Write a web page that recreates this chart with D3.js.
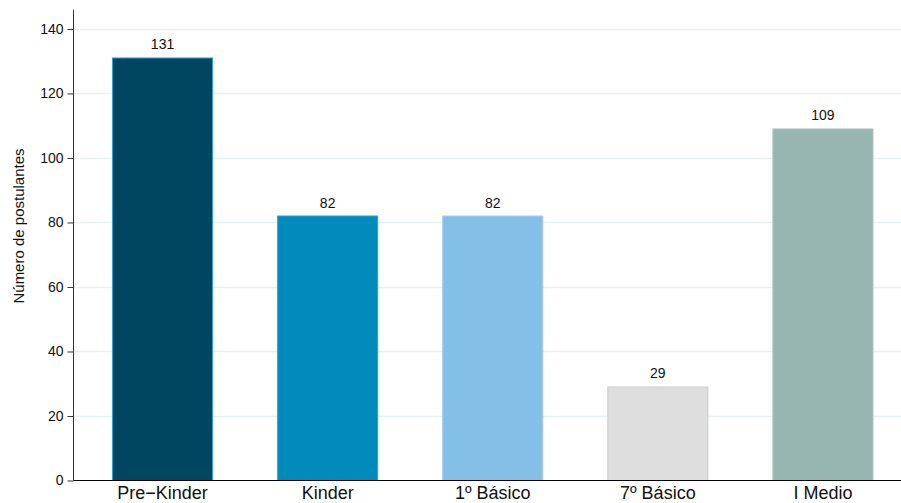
<!DOCTYPE html>
<html><head><meta charset="utf-8">
<script src="https://cdn.jsdelivr.net/npm/d3@7"></script>
<style>body{margin:0;background:#fff;}svg{display:block;font-family:"Liberation Sans",Arial,sans-serif;}</style>
</head><body>
<svg id="c" width="901" height="503"></svg>
<script>
const categories = ["Pre\u2212Kinder", "Kinder", "1\u00ba B\u00e1sico", "7\u00ba B\u00e1sico", "I Medio"];
const values = [131, 82, 82, 29, 109];
const fills = ["#004660", "#008bbc", "#84bfe8", "#dedede", "#98b6b0"];
const strokes = ["#2aa3d3", "#28a0cc", "#9fcdee", "#cccccc", "#a8c2bc"];
const yTicks = [0, 20, 40, 60, 80, 100, 120, 140];
const yTitle = "N\u00famero de postulantes";

const svg = d3.select("#c");
const axisX = 73.5, rightX = 901;
const y = d3.scaleLinear().domain([0, 146]).range([480.5, 9.6]);
const x = d3.scaleBand().domain(categories).range([80, 905.5]).paddingInner(0.394).paddingOuter(0.197);

// gridlines
svg.append("g").selectAll("line").data(yTicks.filter(d => d > 0)).join("line")
  .attr("x1", axisX).attr("x2", rightX)
  .attr("y1", d => Math.round(y(d)) + 0.5).attr("y2", d => Math.round(y(d)) + 0.5)
  .attr("stroke", "#e9f0f3").attr("stroke-width", 1.5);

// bars
svg.append("g").selectAll("rect").data(values).join("rect")
  .attr("x", (d, i) => x(categories[i]))
  .attr("width", x.bandwidth())
  .attr("y", d => y(d))
  .attr("height", d => y(0) - y(d))
  .attr("fill", (d, i) => fills[i])
  .attr("stroke", (d, i) => strokes[i])
  .attr("stroke-width", 1);

// value labels
svg.append("g").selectAll("text").data(values).join("text")
  .attr("x", (d, i) => x(categories[i]) + x.bandwidth() / 2)
  .attr("y", d => y(d) - 8.5)
  .attr("text-anchor", "middle")
  .attr("font-size", 14).attr("fill", "#111")
  .text(d => d);

// y axis
const ya = svg.append("g").attr("transform", `translate(${axisX},0)`)
  .call(d3.axisLeft(y).tickValues(yTicks).tickSize(6).tickPadding(4).tickFormat(d3.format("d")));
ya.select(".domain").attr("d", `M0,${y(146)}V${y(0)}`).attr("stroke", "#333");
ya.selectAll(".tick line").attr("stroke", "#333");
ya.selectAll(".tick text").attr("font-size", 14).attr("fill", "#111").attr("font-family", "Liberation Sans, Arial, sans-serif");

// x axis line
svg.append("line").attr("x1", axisX).attr("x2", rightX)
  .attr("y1", y(0)).attr("y2", y(0)).attr("stroke", "#000").attr("stroke-width", 1.2);

// x labels
svg.append("g").selectAll("text").data(categories).join("text")
  .attr("x", d => x(d) + x.bandwidth() / 2)
  .attr("y", 499)
  .attr("text-anchor", "middle")
  .attr("font-size", 18).attr("fill", "#111")
  .text(d => d);

// y title
svg.append("text")
  .attr("transform", "translate(24,226) rotate(-90)")
  .attr("text-anchor", "middle")
  .attr("font-size", 15).attr("fill", "#111")
  .text(yTitle);
</script>
</body></html>
